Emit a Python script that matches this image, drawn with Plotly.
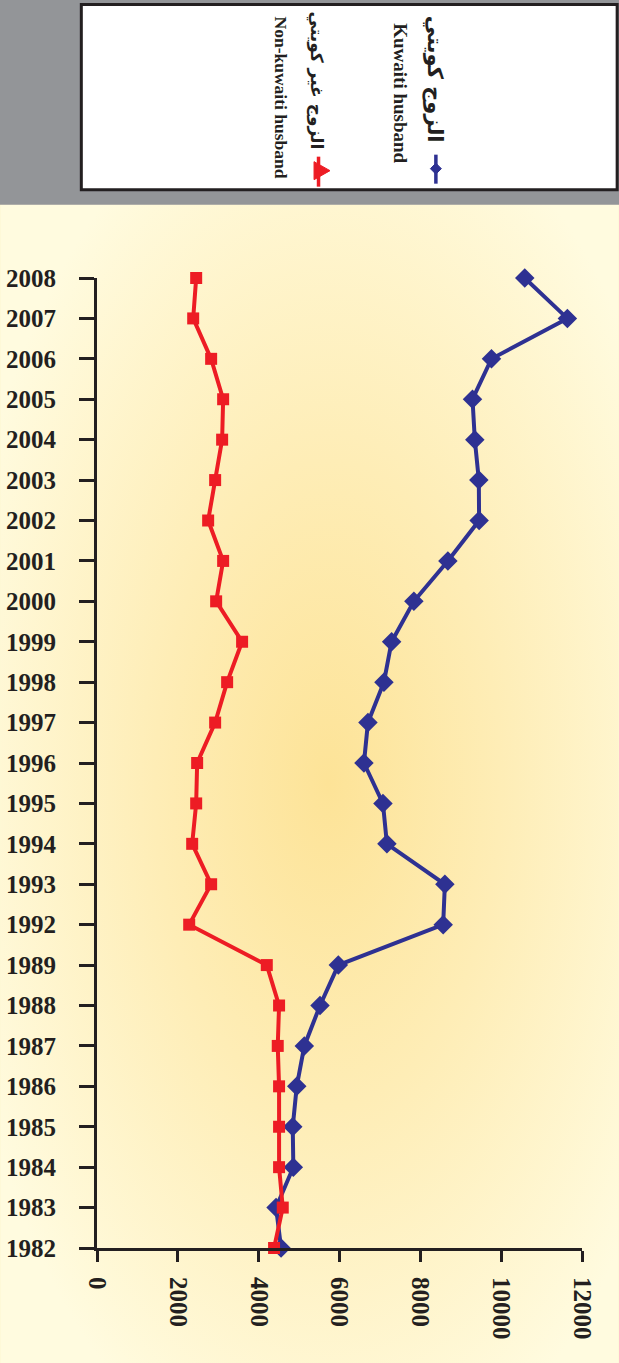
import base64
import plotly.graph_objects as go

# ---- data ----
years = ["1982", "1983", "1984", "1985", "1986", "1987", "1988", "1989",
         "1992", "1993", "1994", "1995", "1996", "1997", "1998", "1999",
         "2000", "2001", "2002", "2003", "2004", "2005", "2006", "2007", "2008"]
kuwaiti = [4554, 4431, 4858, 4843, 4942, 5130, 5518, 5970,
           8565, 8607, 7173, 7075, 6605, 6704, 7099, 7289,
           7840, 8681, 9454, 9447, 9348, 9291, 9760, 11638, 10583]
non_kuwaiti = [4381, 4596, 4505, 4505, 4505, 4472, 4505, 4201,
               2281, 2824, 2355, 2454, 2478, 2923, 3220, 3590,
               2948, 3121, 2750, 2923, 3096, 3121, 2824, 2380, 2454]
value_ticks = [0, 2000, 4000, 6000, 8000, 10000, 12000]
name_kw_ar = "الزوج كويتي"
name_kw_en = "Kuwaiti husband"
name_nk_ar = "الزوج غير كويتي"
name_nk_en = "Non-kuwaiti husband"

# ---- styling ----
W, H = 619, 1363
L, R = 96.7, 582.3          # plot area x in px
T, B = 278.3, 1248.0        # plot area y in px
BLUE = "#2E3192"
RED = "#ED1C24"
INK = "#231F20"
GRAY = "#939598"
SERIF = "Liberation Serif, Times New Roman, serif"


def px(x):
    return (x - L) / (R - L)


def py(y):
    return (B - y) / (B - T)


fig = go.Figure()
fig.add_trace(go.Scatter(
    x=kuwaiti, y=years, mode="lines+markers", name=name_kw_en,
    line=dict(color=BLUE, width=4),
    marker=dict(symbol="diamond", size=15, color=BLUE),
    cliponaxis=False, showlegend=False))
fig.add_trace(go.Scatter(
    x=non_kuwaiti, y=years, mode="lines+markers", name=name_nk_en,
    line=dict(color=RED, width=4),
    marker=dict(symbol="square", size=12, color=RED),
    cliponaxis=False, showlegend=False))

# radial gradient background for the lower panel
svg = f"""<svg xmlns='http://www.w3.org/2000/svg' width='619' height='1158' viewBox='0 0 619 1158' preserveAspectRatio='none'>
<defs><radialGradient id='g' cx='0.53' cy='0.5' r='0.62'>
<stop offset='0' stop-color='#FDE397'/>
<stop offset='0.45' stop-color='#FEEDB6'/>
<stop offset='1' stop-color='#FFFBDF'/>
</radialGradient></defs>
<rect width='619' height='1158' fill='url(#g)'/></svg>"""
src = "data:image/svg+xml;base64," + base64.b64encode(svg.encode()).decode()
fig.add_layout_image(dict(
    source=src, xref="paper", yref="paper",
    x=px(0), y=py(205), sizex=W / (R - L), sizey=(H - 205) / (B - T),
    xanchor="left", yanchor="top", sizing="stretch", layer="below"))

shapes = []
# gray top band
shapes.append(dict(type="rect", xref="paper", yref="paper",
                   x0=px(-5), x1=px(W + 5), y0=py(-5), y1=py(205),
                   fillcolor=GRAY, line=dict(width=0), layer="below"))
# legend box
shapes.append(dict(type="rect", xref="paper", yref="paper",
                   x0=px(81), x1=px(617.5), y0=py(5), y1=py(190),
                   fillcolor="white", line=dict(color=INK, width=3), layer="above"))
# legend glyph: blue line + diamond
shapes.append(dict(type="line", xref="paper", yref="paper",
                   x0=px(436), x1=px(436), y0=py(155), y1=py(184),
                   line=dict(color=BLUE, width=3.5), layer="above"))
d = [(436, 163.5), (441.5, 169), (436, 174.5), (430.5, 169)]
shapes.append(dict(type="path", xref="paper", yref="paper",
                   path="M " + " L ".join(f"{px(a)},{py(b)}" for a, b in d) + " Z",
                   fillcolor=BLUE, line=dict(color=BLUE, width=1), layer="above"))
# legend glyph: red line + triangle
shapes.append(dict(type="line", xref="paper", yref="paper",
                   x0=px(318.5), x1=px(318.5), y0=py(157), y1=py(187),
                   line=dict(color=RED, width=3.5), layer="above"))
t = [(314, 162), (330, 171), (314, 180)]
shapes.append(dict(type="path", xref="paper", yref="paper",
                   path="M " + " L ".join(f"{px(a)},{py(b)}" for a, b in t) + " Z",
                   fillcolor=RED, line=dict(color=RED, width=1), layer="above"))

annotations = []
for text, cx, cy, fam, size in [
    (name_kw_ar, 434, 80, "DejaVu Sans", 21),
    (name_kw_en, 401, 93.5, SERIF, 19),
    (name_nk_ar, 316, 81, "DejaVu Sans", 17),
    (name_nk_en, 281, 98, SERIF, 17.5),
]:
    annotations.append(dict(
        text=text, xref="paper", yref="paper", x=px(cx), y=py(cy),
        xanchor="center", yanchor="middle", textangle=90, showarrow=False,
        font=dict(family=fam, size=size, color=INK, weight="bold")))

fig.update_layout(
    width=W, height=H,
    margin=dict(l=L, r=W - R, t=T, b=H - B, pad=0, autoexpand=False),
    paper_bgcolor="#FEF8D4",
    plot_bgcolor="rgba(0,0,0,0)",
    shapes=shapes, annotations=annotations,
    showlegend=False,
    xaxis=dict(range=[0, 12000], tickvals=value_ticks,
               ticktext=[str(v) for v in value_ticks],
               tickangle=90, showgrid=False, zeroline=False, automargin=False,
               showline=True, linecolor=INK, linewidth=3,
               ticks="outside", ticklen=11, tickwidth=2.5, tickcolor=INK,
               ticklabelstandoff=10,
               tickfont=dict(family=SERIF, size=25, color=INK, weight="bold")),
    yaxis=dict(type="category", categoryorder="array", categoryarray=years,
               range=[0, len(years) - 1], showgrid=False, zeroline=False,
               automargin=False,
               showline=True, linecolor=INK, linewidth=3,
               ticks="outside", ticklen=15, tickwidth=2.5, tickcolor=INK,
               ticklabelstandoff=18,
               tickfont=dict(family=SERIF, size=25, color=INK, weight="bold")),
)

fig.write_html("out.html",
               config={"displayModeBar": False},
               post_script="document.body.style.margin='0px';"
                           "document.body.style.overflow='hidden';")
